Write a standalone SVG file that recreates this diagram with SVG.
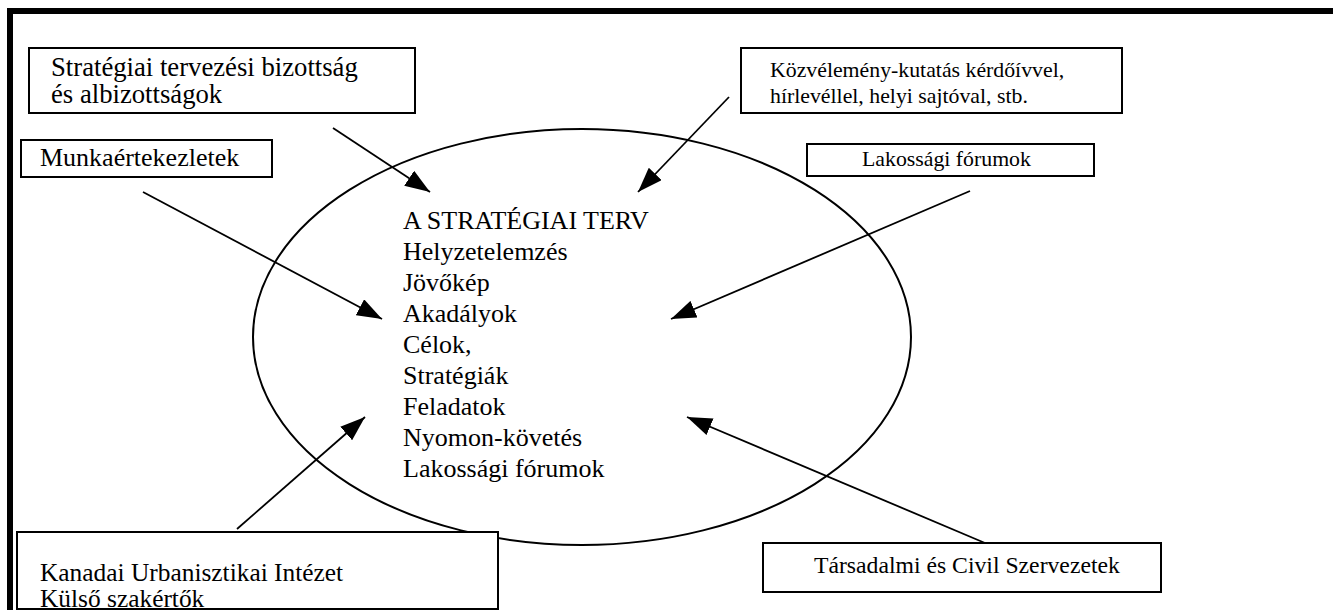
<svg xmlns="http://www.w3.org/2000/svg" width="1333" height="610" viewBox="0 0 1333 610">
  <style>
    .box { fill: #fff; stroke: #000; stroke-width: 2; }
    .lbl { font-family: "Liberation Serif", "Times New Roman", serif; font-size: 26px; fill: #000; }
    .lbl.big { font-size: 26.7px; }
    .lbl.mid { font-size: 25.4px; }
    .lbl.soc { font-size: 23.7px; }
    .lbl.small { font-size: 21.8px; }
    .conn { stroke: #000; stroke-width: 1.8; fill: none; marker-end: url(#head); }
  </style>
  <defs>
    <marker id="head" markerUnits="userSpaceOnUse" markerWidth="26" markerHeight="18" refX="25" refY="9" orient="auto">
      <path d="M0,0 L25,9 L0,18 Z" fill="#000"/>
    </marker>
  </defs>
  <rect width="1333" height="610" fill="#fff"/>

  <!-- page frame -->
  <path d="M10,610 V11 H1333" fill="none" stroke="#000" stroke-width="6"/>

  <!-- central plan -->
  <g id="plan">
    <ellipse cx="582" cy="337" rx="329" ry="208" fill="none" stroke="#000" stroke-width="2"/>
    <text class="lbl" x="403" y="229">A STRATÉGIAI TERV</text>
    <text class="lbl" x="403" y="260">Helyzetelemzés</text>
    <text class="lbl" x="403" y="291">Jövőkép</text>
    <text class="lbl" x="403" y="322">Akadályok</text>
    <text class="lbl" x="403" y="353">Célok,</text>
    <text class="lbl" x="403" y="384">Stratégiák</text>
    <text class="lbl" x="403" y="415">Feladatok</text>
    <text class="lbl" x="403" y="446">Nyomon-követés</text>
    <text class="lbl" x="403" y="477">Lakossági fórumok</text>
  </g>

  <g id="bizottsag">
    <rect class="box" x="29" y="48" width="386" height="65"/>
    <text class="lbl big" x="51" y="76">Stratégiai tervezési bizottság</text>
    <text class="lbl big" x="51" y="103">és albizottságok</text>
  </g>

  <g id="munkaertekezletek">
    <rect class="box" x="21" y="140" width="251" height="37"/>
    <text class="lbl" x="40" y="166">Munkaértekezletek</text>
  </g>

  <g id="kozvelemeny">
    <rect class="box" x="741" y="48" width="381" height="65"/>
    <text class="lbl small" x="770" y="77">Közvélemény-kutatás kérdőívvel,</text>
    <text class="lbl small" x="770" y="103">hírlevéllel, helyi sajtóval, stb.</text>
  </g>

  <g id="forumok">
    <rect class="box" x="807" y="144" width="287" height="32"/>
    <text class="lbl small" x="862" y="166">Lakossági fórumok</text>
  </g>

  <g id="kanadai">
    <rect class="box" x="17" y="532" width="481" height="77"/>
    <text class="lbl mid" x="40" y="581">Kanadai Urbanisztikai Intézet</text>
    <text class="lbl mid" x="40" y="607">Külső szakértők</text>
  </g>

  <g id="szervezetek">
    <rect class="box" x="763" y="543" width="398" height="49"/>
    <text class="lbl soc" x="814" y="573">Társadalmi és Civil Szervezetek</text>
  </g>

  <g id="connectors">
    <line class="conn" x1="333" y1="128" x2="430" y2="192"/>
    <line class="conn" x1="729" y1="97" x2="638" y2="192"/>
    <line class="conn" x1="143" y1="192" x2="382" y2="319"/>
    <line class="conn" x1="970" y1="191" x2="671" y2="319"/>
    <line class="conn" x1="237" y1="529" x2="365" y2="417"/>
    <line class="conn" x1="985" y1="543" x2="687" y2="417"/>
  </g>
</svg>
